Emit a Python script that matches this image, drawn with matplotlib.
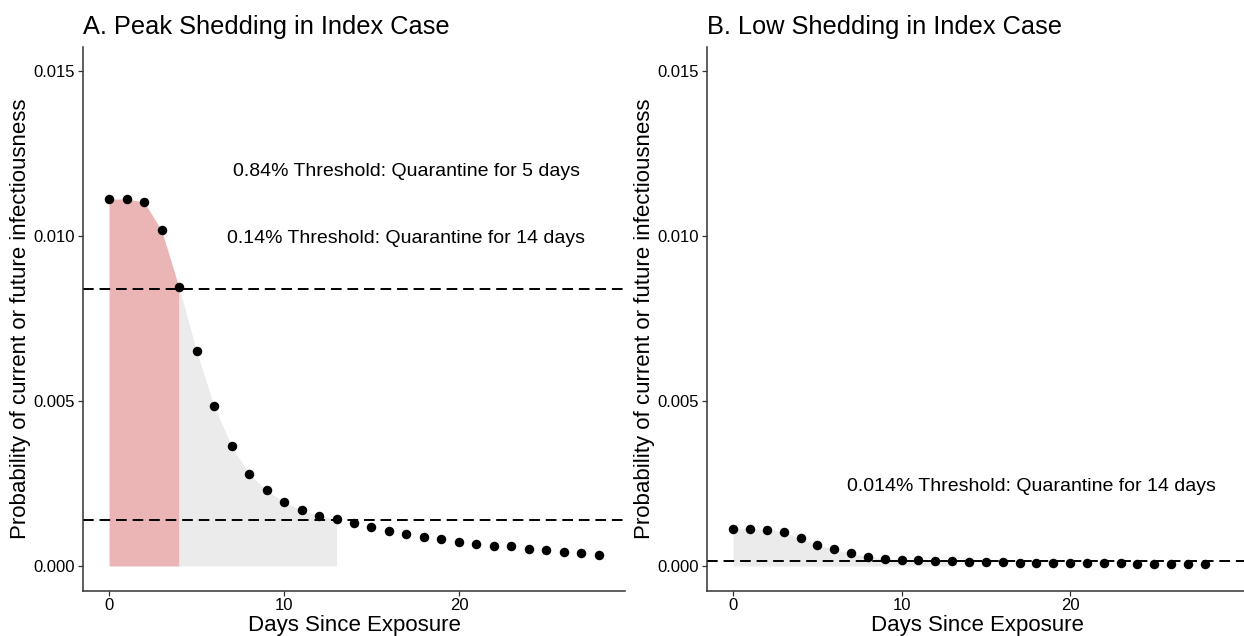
import numpy as np
import matplotlib.pyplot as plt

plt.rcParams['font.family'] = ['Liberation Sans', 'DejaVu Sans']

# Days since exposure
days = np.arange(0, 29)

# Panel A: peak shedding in index case
peak_prob = [0.01113, 0.01113, 0.01104, 0.01018, 0.00845, 0.00652, 0.00485,
             0.00363, 0.00280, 0.00229, 0.00194, 0.00169, 0.00153, 0.00141,
             0.00129, 0.00117, 0.00106, 0.00097, 0.00089, 0.00081, 0.00073,
             0.00067, 0.00062, 0.00060, 0.00052, 0.00047, 0.00043, 0.00038,
             0.00033]
peak_thresholds = [0.0084, 0.0014]
peak_labels = ["0.84% Threshold: Quarantine for 5 days",
               "0.14% Threshold: Quarantine for 14 days"]

# Panel B: low shedding in index case
low_prob = [0.00112, 0.00112, 0.00110, 0.00103, 0.00084, 0.00064, 0.00050,
            0.00039, 0.00027, 0.00022, 0.00019, 0.00017, 0.00014, 0.00014,
            0.00012, 0.00012, 0.00012, 0.00010, 0.00010, 0.00008, 0.00008,
            0.00008, 0.00008, 0.00008, 0.00006, 0.00006, 0.00006, 0.00006,
            0.00006]
low_threshold = 0.00014
low_label = "0.014% Threshold: Quarantine for 14 days"

yticks = [0.000, 0.005, 0.010, 0.015]
xticks = [0, 10, 20]

fig = plt.figure(figsize=(12.44, 6.36), dpi=100)
axA = fig.add_axes([83/1244, 45.3/636, 542/1244, 544/636])
axB = fig.add_axes([707/1244, 45.3/636, 540/1244, 544/636])


def style(ax, title):
    for s in ['top', 'right']:
        ax.spines[s].set_visible(False)
    for s in ['left', 'bottom']:
        ax.spines[s].set_color('#333333')
        ax.spines[s].set_linewidth(1.1)
    ax.set_ylim(-0.00075, 0.01575)
    ax.set_yticks(yticks)
    ax.set_yticklabels([f"{v:.3f}" for v in yticks])
    ax.set_xticks(xticks)
    ax.tick_params(labelsize=12, colors='#333333', labelcolor='black',
                   length=3.5, width=0.9, pad=2)
    ax.set_xlabel("Days Since Exposure", fontsize=16, labelpad=1)
    ax.set_ylabel("Probability of current or future infectiousness",
                  fontsize=16, labelpad=2)
    ax.set_title(title, loc='left', fontsize=18.3, pad=9)


d = days
pA = np.array(peak_prob)
# shaded areas under the curve
axA.fill_between(d[d <= 4], 0, pA[d <= 4], color='#ebb5b5', lw=0)
axA.fill_between(d[(d >= 4) & (d <= 13)], 0, pA[(d >= 4) & (d <= 13)],
                 color='#ebebeb', lw=0)
for t in peak_thresholds:
    axA.axhline(t, color='black', ls=(0, (5.5, 3)), lw=1.4)
axA.scatter(days, peak_prob, s=34, color='black', zorder=3)
axA.text(17, 0.01195, peak_labels[0], ha='center', va='center', fontsize=14)
axA.text(17, 0.00993, peak_labels[1], ha='center', va='center', fontsize=14)
axA.set_xlim(-1.49, 29.49)
style(axA, "A. Peak Shedding in Index Case")

pB = np.array(low_prob)
axB.fill_between(d[d <= 13], 0, pB[d <= 13], color='#ebebeb', lw=0)
axB.axhline(low_threshold, color='black', ls=(0, (5.5, 3)), lw=1.4)
axB.scatter(days, low_prob, s=34, color='black', zorder=3)
axB.text(17.7, 0.00242, low_label, ha='center', va='center', fontsize=14)
axB.set_xlim(-1.55, 30.5)
style(axB, "B. Low Shedding in Index Case")

fig.savefig('out.png', dpi=100)
